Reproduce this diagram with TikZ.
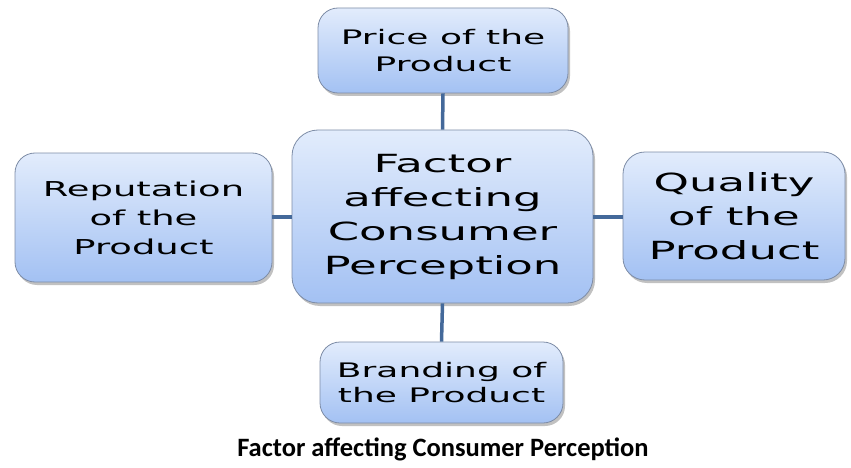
\documentclass[tikz,border=0pt]{standalone}
\usepackage{fontspec}
\setmainfont{Carlito}
\newfontfamily\boxfont[FakeStretch=1.8]{DejaVu Sans}
\usetikzlibrary{shadows}
\definecolor{boxtop}{HTML}{E2ECFC}
\definecolor{boxbottom}{HTML}{A3C1F3}
\definecolor{boxedge}{HTML}{7D8CA6}
\definecolor{linkblue}{HTML}{44699A}
\tikzset{
  factor/.style={rectangle, rounded corners=20pt, draw=boxedge, line width=0.8pt,
    top color=boxtop, bottom color=boxbottom, align=center, inner sep=0pt,
    drop shadow={shadow xshift=2pt, shadow yshift=-3pt, opacity=0.35, fill=black!70},
    font=\boxfont\fontsize{20}{27}\selectfont},
  bigfactor/.style={factor, rounded corners=26pt, font=\boxfont\fontsize{25}{34}\selectfont},
  link/.style={draw=linkblue, line width=3.5pt}
}
\begin{document}
\begin{tikzpicture}[x=1pt, y=-1pt]
  \useasboundingbox (0,0) rectangle (851,468);
  % centre box and the four factors round it
  \coordinate (c) at (442.5,216.5);
  \node[bigfactor, minimum width=301pt, minimum height=173pt] (centre) at (c)
    {Factor\\affecting\\Consumer\\Perception};
  \node[factor, minimum width=250pt, minimum height=85pt] (price) at (443,50.5)
    {Price of the\\Product};
  \node[factor, minimum width=257pt, minimum height=129pt, font=\boxfont\fontsize{20.5}{29}\selectfont] (reputation) at (143.5,217.5)
    {Reputation\\of the\\Product};
  \node[bigfactor, rounded corners=22pt, minimum width=222pt, minimum height=128pt] (quality) at (734,216)
    {Quality\\of the\\Product};
  \node[factor, minimum width=243pt, minimum height=81pt, font=\boxfont\fontsize{20}{25}\selectfont] (branding) at (441.5,382.5)
    {Branding of\\the Product};
  \draw[link] (centre.north) -- (price.south);
  \draw[link] (centre.south) -- (branding.north);
  \draw[link] (centre.west |- 0,217) -- (reputation.east |- 0,217);
  \draw[link] (centre.east |- 0,217) -- (quality.west |- 0,217);
  \node[font=\bfseries\fontsize{26.5}{30}\selectfont] (caption) at (443,449)
    {Factor affecting Consumer Perception};
\end{tikzpicture}
\end{document}
